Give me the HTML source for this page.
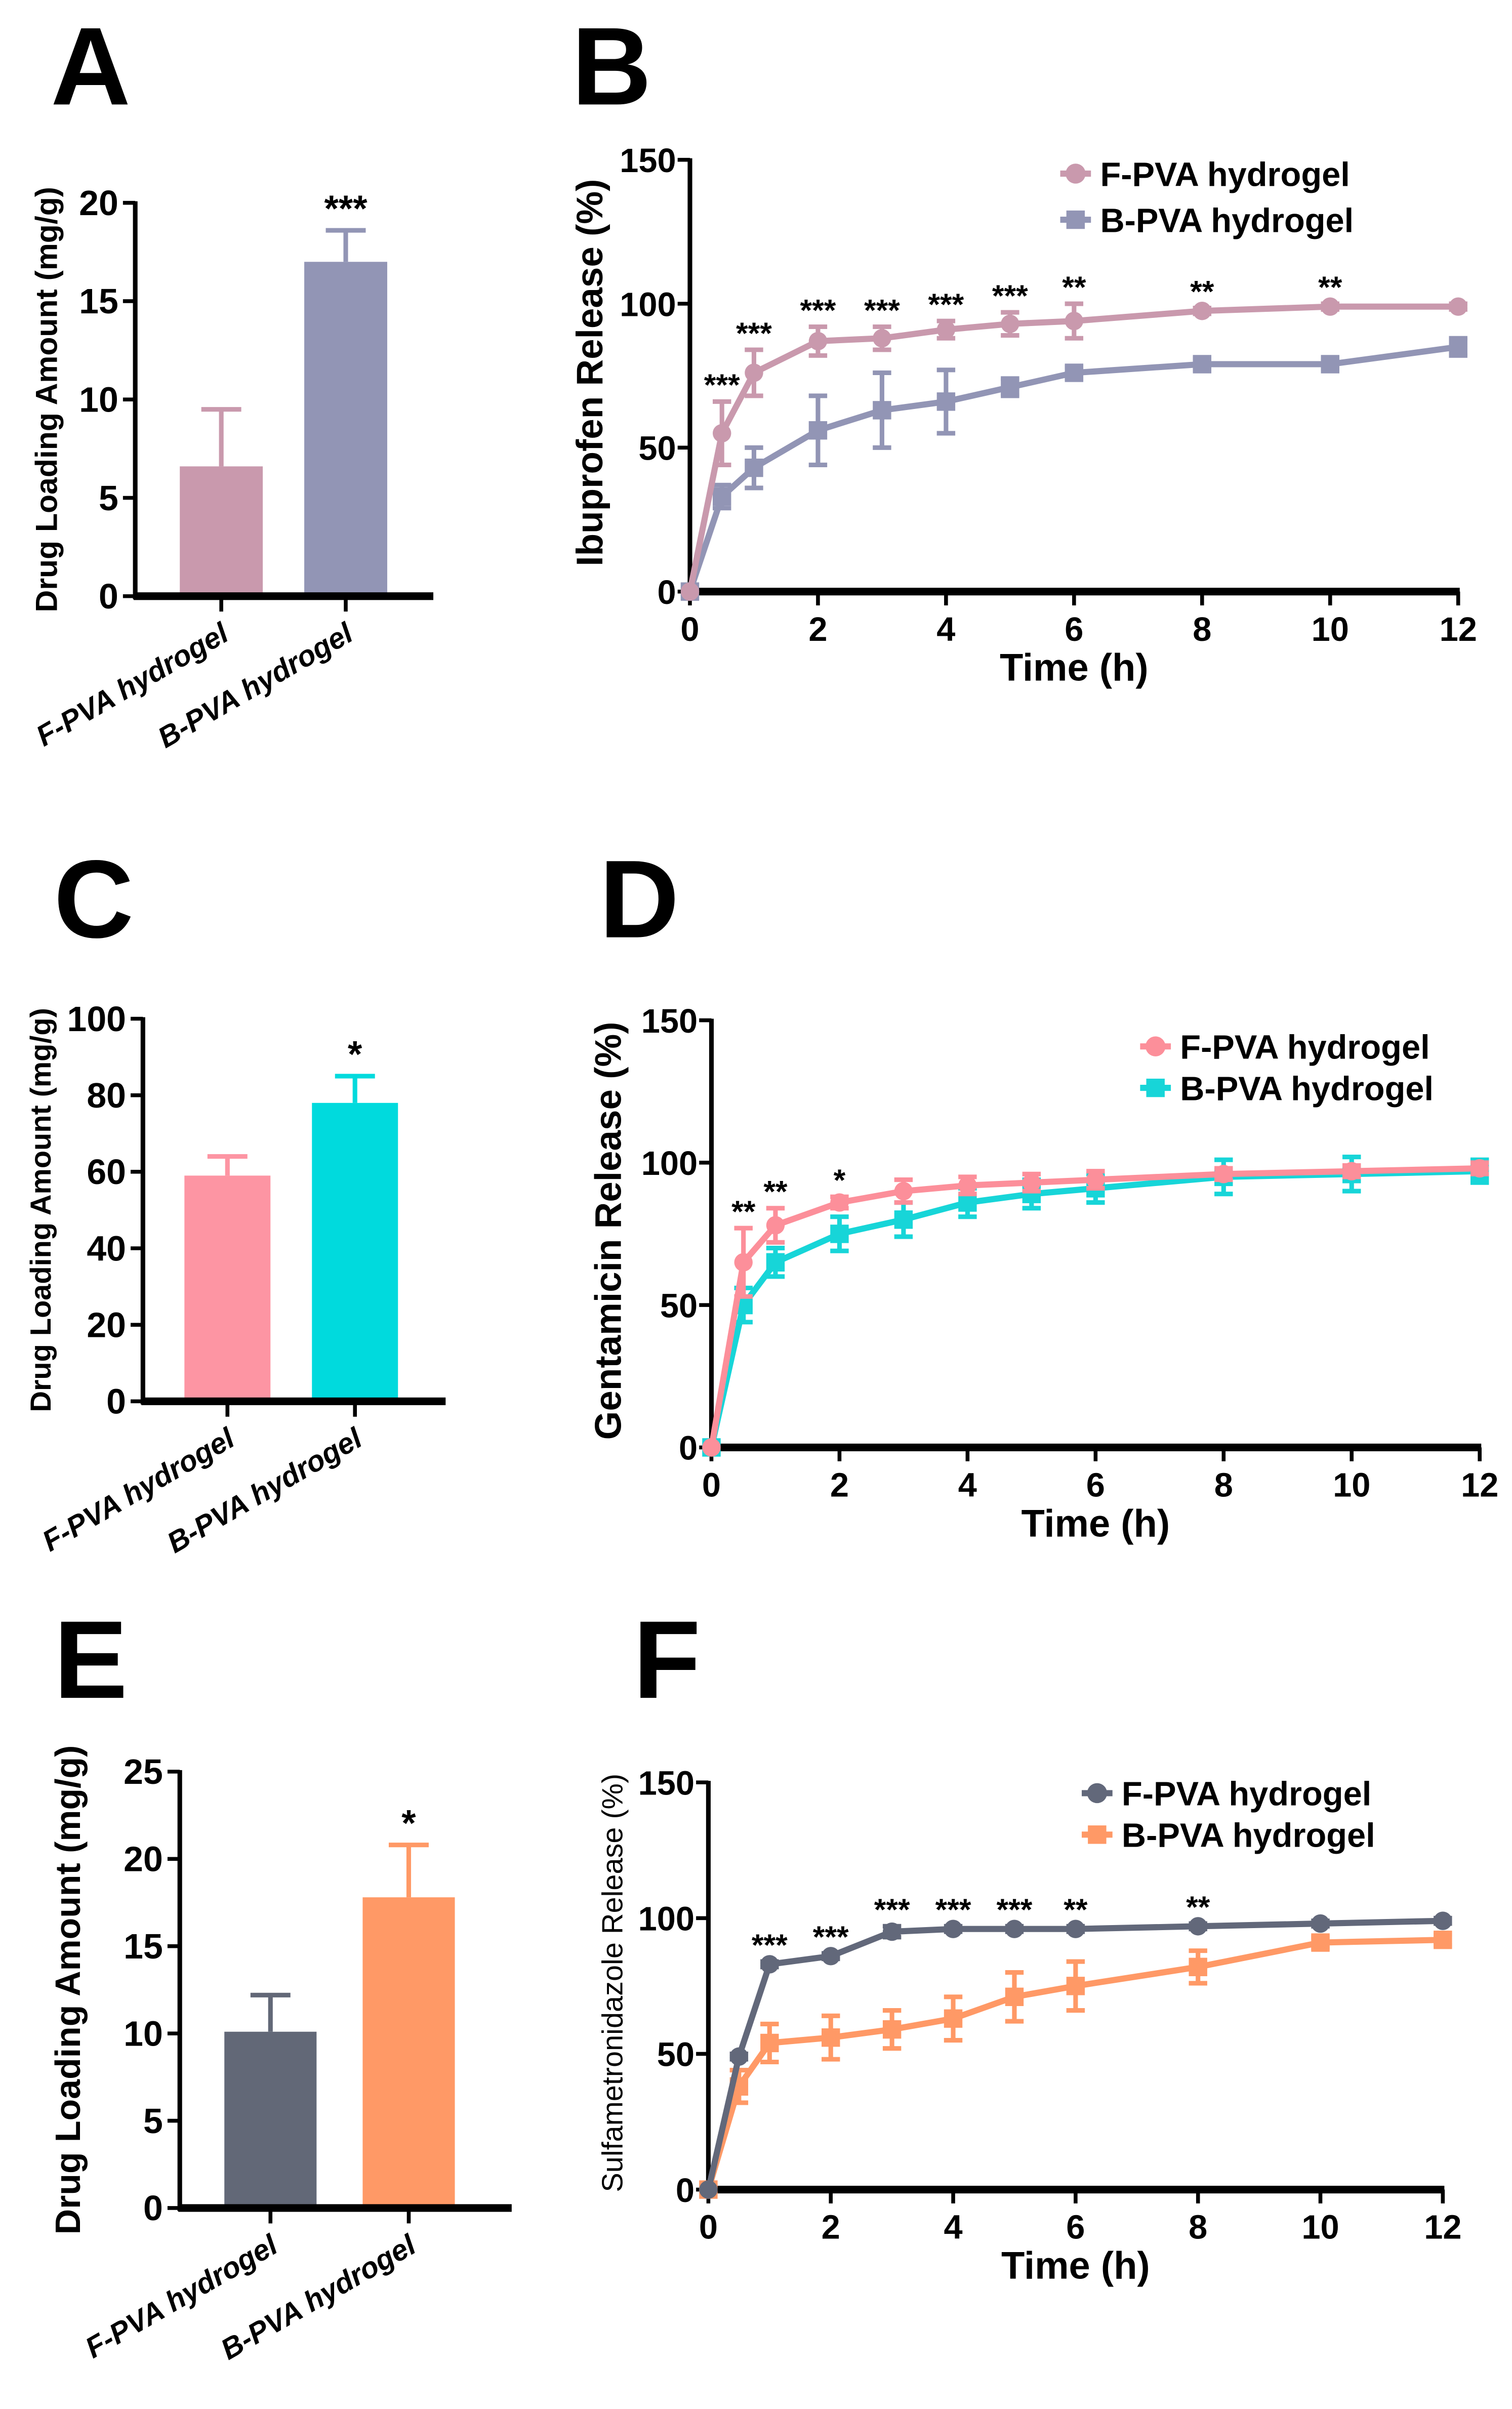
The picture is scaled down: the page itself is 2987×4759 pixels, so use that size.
<!DOCTYPE html>
<html><head><meta charset="utf-8"><style>
html,body{margin:0;padding:0;background:#fff}
svg{display:block}
text{font-family:"Liberation Sans",Arial,sans-serif}
</style></head><body>
<svg id="fig" xmlns="http://www.w3.org/2000/svg" width="2987" height="4759" viewBox="0 0 984 1567.8">
<rect width="1000" height="1600" fill="#fff"/>
</svg>
<script>
// ---- Data ----
const barCategories = ["F-PVA hydrogel", "B-PVA hydrogel"];
const barA = [6.6, 17.0];
const barAErr = [2.9, 1.6];
const barC = [59, 78];
const barCErr = [5, 7];
const barE = [10.1, 17.8];
const barEErr = [2.1, 3.0];
const barAYTicks = [0, 5, 10, 15, 20];
const barCYTicks = [0, 20, 40, 60, 80, 100];
const barEYTicks = [0, 5, 10, 15, 20, 25];

const timePoints = [0, 0.5, 1, 2, 3, 4, 5, 6, 8, 10, 12];
const lineXTicks = [0, 2, 4, 6, 8, 10, 12];
const lineYTicks = [0, 50, 100, 150];
const bF = [0, 55, 76, 87, 88, 91, 93, 94, 97.5, 99, 99];
const bFErr = [0, 11, 8, 5, 4, 3, 4, 6, 1, 1, 1];
const bB = [0, 33, 43, 56, 63, 66, 71, 76, 79, 79, 85];
const bBErr = [0, 4, 7, 12, 13, 11, 3, 2, 2, 2, 3];
const bStars = ["", "***", "***", "***", "***", "***", "***", "**", "**", "**", ""];
const dF = [0, 65, 78, 86, 90, 92, 93, 94, 96, 97, 98];
const dFErr = [0, 12, 6, 2, 4, 3, 3, 3, 2, 2, 2];
const dB = [0, 50, 65, 75, 80, 86, 89, 91, 95, 96, 97];
const dBErr = [0, 6, 5, 6, 6, 5, 5, 5, 6, 6, 4];
const dStars = ["", "**", "**", "*", "", "", "", "", "", "", ""];
const fF = [0, 49, 83, 86, 95, 96, 96, 96, 97, 98, 99];
const fFErr = [0, 1, 1, 1, 2, 1, 1, 1, 1, 1, 1];
const fB = [0, 38, 54, 56, 59, 63, 71, 75, 82, 91, 92];
const fBErr = [0, 6, 7, 8, 7, 8, 9, 9, 6, 2, 2];
const fStars = ["", "", "***", "***", "***", "***", "***", "**", "**", "", ""];

const svg = document.getElementById('fig');
const NS = 'http://www.w3.org/2000/svg';
function mk(tag, attrs, parent, txt) {
  const e = document.createElementNS(NS, tag);
  for (const k in attrs) e.setAttribute(k, attrs[k]);
  if (txt !== undefined) e.textContent = txt;
  (parent || svg).appendChild(e);
  return e;
}

function panelLetter(ch, x, y) {
  const t = mk('text', {x: x, y: y, 'font-size': 72, 'font-weight': 'bold', fill: '#000'}, svg, ch);
  
  
}

function barPanel(o) {
  const g = mk('g', {});
  
  
  const yMax = o.ticks[o.ticks.length - 1];
  const ys = v => o.y0 - (v / yMax) * (o.y0 - o.yTop);
  o.vals.forEach((v, i) => {
    const x = o.barX[i];
    const eb = mk('path', {d: `M${x + o.bw/2} ${ys(v)}V${ys(v + o.err[i])}M${x + o.bw/2 - 13} ${ys(v + o.err[i])}h26`, stroke: o.colors[i], 'stroke-width': 3, fill: 'none'}, g);
    
    
    const r = mk('rect', {x: x, y: ys(v), width: o.bw, height: o.y0 - ys(v), fill: o.colors[i]}, g);
    
    
    const cx = x + o.bw / 2;
    mk('line', {x1: cx, x2: cx, y1: o.y0, y2: o.y0 + 10, stroke: '#000', 'stroke-width': 2.5}, g);
    const lab = mk('text', {x: 0, y: 0, 'font-size': 19, 'font-weight': 'bold', 'font-style': 'italic', 'text-anchor': 'end', transform: `translate(${cx + 6},${o.y0 + 28}) rotate(-30)`}, g, barCategories[i]);
    
    
  });
  const st = mk('text', {x: o.barX[1] + o.bw / 2, y: ys(o.vals[1] + o.err[1]) - 6, 'font-size': 24, 'font-weight': 'bold', 'text-anchor': 'middle'}, g, o.star);
  
  
  const ya = mk('line', {x1: o.xAxis, x2: o.xAxis, y1: o.yTop - 1, y2: o.y0 + 2, stroke: '#000', 'stroke-width': 3}, g);
  
  
  const xa = mk('line', {x1: o.xAxis - 1, x2: o.xEnd, y1: o.y0, y2: o.y0, stroke: '#000', 'stroke-width': 5}, g);
  
  
  o.ticks.forEach(t => {
    mk('line', {x1: o.xAxis - 8, x2: o.xAxis, y1: ys(t), y2: ys(t), stroke: '#000', 'stroke-width': 2.5}, g);
    const tl = mk('text', {x: o.xAxis - 11, y: ys(t) + 8, 'font-size': 23, 'font-weight': 'bold', 'text-anchor': 'end'}, g, t);
    
    
  });
  const yt = mk('text', {x: 0, y: 0, 'font-size': o.tsize, 'font-weight': 'bold', 'text-anchor': 'middle', transform: `translate(${o.titleX},${(o.y0 + o.yTop) / 2}) rotate(-90)`}, g, 'Drug Loading Amount (mg/g)');
  
  
}

function linePanel(o) {
  const g = mk('g', {});
  
  
  const xs = t => o.x0 + (t / 12) * (o.x12 - o.x0);
  const ys = v => o.y0 - (v / 150) * (o.y0 - o.yTop);
  const ya = mk('line', {x1: o.x0, x2: o.x0, y1: o.yTop - 1, y2: o.y0 + 2, stroke: '#000', 'stroke-width': 3}, g);
  
  
  const xa = mk('line', {x1: o.x0 - 1, x2: o.x12 + 1, y1: o.y0, y2: o.y0, stroke: '#000', 'stroke-width': 5}, g);
  
  
  lineYTicks.forEach(t => {
    mk('line', {x1: o.x0 - 8, x2: o.x0, y1: ys(t), y2: ys(t), stroke: '#000', 'stroke-width': 2.5}, g);
    const tl = mk('text', {x: o.x0 - 9, y: ys(t) + 8, 'font-size': 22, 'font-weight': 'bold', 'text-anchor': 'end'}, g, t);
    
    
  });
  lineXTicks.forEach(t => {
    mk('line', {x1: xs(t), x2: xs(t), y1: o.y0, y2: o.y0 + 9, stroke: '#000', 'stroke-width': 2.5}, g);
    const tl = mk('text', {x: xs(t), y: o.y0 + 32, 'font-size': 22, 'font-weight': 'bold', 'text-anchor': 'middle'}, g, t);
    
    
  });
  const xt = mk('text', {x: (o.x0 + o.x12) / 2, y: o.y0 + 58, 'font-size': 25, 'font-weight': 'bold', 'text-anchor': 'middle'}, g, 'Time (h)');
  
  
  const yt = mk('text', {x: 0, y: 0, 'font-size': o.tsize, 'font-weight': o.tweight, 'text-anchor': 'middle', transform: `translate(${o.titleX},${(o.y0 + o.yTop) / 2 - 2}) rotate(-90)`}, g, o.ytitle);
  
  
  const series = [
    {vals: o.B, err: o.BErr, color: o.cB, shape: 'square', key: 'b-pva'},
    {vals: o.F, err: o.FErr, color: o.cF, shape: 'circle', key: 'f-pva'}
  ];
  series.forEach(s => {
    const sg = mk('g', {}, g);
    
    
    const d = timePoints.map((t, i) => (i ? 'L' : 'M') + xs(t) + ' ' + ys(s.vals[i])).join('');
    const ln = mk('path', {d: d, stroke: s.color, 'stroke-width': 4, fill: 'none'}, sg);
    
    
    timePoints.forEach((t, i) => {
      const x = xs(t), v = s.vals[i], e = s.err[i];
      if (e > 0) {
        const eb = mk('path', {d: `M${x} ${ys(v - e)}V${ys(v + e)}M${x - 6} ${ys(v - e)}h12M${x - 6} ${ys(v + e)}h12`, stroke: s.color, 'stroke-width': 3, fill: 'none'}, sg);
        
        
      }
      let m;
      if (s.shape === 'circle') m = mk('circle', {cx: x, cy: ys(v), r: 6, fill: s.color}, sg);
      else m = mk('rect', {x: x - 6, y: ys(v) - 6, width: 12, height: 12, fill: s.color}, sg);
      
      
    });
  });
  o.stars.forEach((s, i) => {
    if (!s) return;
    const top = Math.max(o.F[i] + o.FErr[i], o.B[i] + o.BErr[i]);
    const st = mk('text', {x: xs(timePoints[i]), y: ys(top) - 4, 'font-size': 20, 'font-weight': 'bold', 'text-anchor': 'middle'}, g, s);
    
    
  });
  const lg = mk('g', {}, g);
  
  
  [[o.cF, 'circle', 'F-PVA hydrogel'], [o.cB, 'square', 'B-PVA hydrogel']].forEach((L, k) => {
    const y = o.legY + k * o.legDy;
    const e = mk('g', {}, lg);
    
    
    mk('line', {x1: o.legX - 10, x2: o.legX + 10, y1: y, y2: y, stroke: L[0], 'stroke-width': 4}, e);
    if (L[1] === 'circle') mk('circle', {cx: o.legX, cy: y, r: 6.5, fill: L[0]}, e);
    else mk('rect', {x: o.legX - 6, y: y - 6, width: 12, height: 12, fill: L[0]}, e);
    mk('text', {x: o.legX + 16, y: y + 8, 'font-size': 22, 'font-weight': 'bold'}, e, L[2]);
  });
}

panelLetter('A', 33, 68);
panelLetter('B', 372, 68);
panelLetter('C', 35, 610);
panelLetter('D', 390, 610);
panelLetter('E', 35, 1105);
panelLetter('F', 412, 1105);

barPanel({name: 'panel-a-bar-chart', vals: barA, err: barAErr, ticks: barAYTicks, y0: 388, yTop: 132, xAxis: 88, xEnd: 282, barX: [117, 198], bw: 54, colors: ['#c999ad', '#9295b5'], star: '***', titleX: 37, tsize: 20});
linePanel({name: 'panel-b-ibuprofen-release', x0: 449, x12: 949, y0: 385, yTop: 104, F: bF, FErr: bFErr, B: bB, BErr: bBErr, stars: bStars, cF: '#c999ad', cB: '#9295b5', ytitle: 'Ibuprofen Release (%)', tsize: 24, tweight: 'bold', titleX: 392, legX: 700, legY: 113, legDy: 30});

barPanel({name: 'panel-c-bar-chart', vals: barC, err: barCErr, ticks: barCYTicks, y0: 912, yTop: 663, xAxis: 93, xEnd: 290, barX: [120, 203], bw: 56, colors: ['#fd95a3', '#00dadd'], star: '*', titleX: 33, tsize: 19});
linePanel({name: 'panel-d-gentamicin-release', x0: 463, x12: 963, y0: 942, yTop: 664, F: dF, FErr: dFErr, B: dB, BErr: dBErr, stars: dStars, cF: '#fc8f9a', cB: '#17d5d8', ytitle: 'Gentamicin Release (%)', tsize: 24, tweight: 'bold', titleX: 404, legX: 752, legY: 681, legDy: 27});

barPanel({name: 'panel-e-bar-chart', vals: barE, err: barEErr, ticks: barEYTicks, y0: 1437, yTop: 1153, xAxis: 117, xEnd: 333, barX: [146, 236], bw: 60, colors: ['#626877', '#ff9966'], star: '*', titleX: 52, tsize: 23});
linePanel({name: 'panel-f-sulfametronidazole-release', x0: 461, x12: 939, y0: 1425, yTop: 1160, F: fF, FErr: fFErr, B: fB, BErr: fBErr, stars: fStars, cF: '#62687a', cB: '#ff9966', ytitle: 'Sulfametronidazole Release (%)', tsize: 19, tweight: 'normal', titleX: 405, legX: 714, legY: 1167, legDy: 27});
</script>
</body></html>
